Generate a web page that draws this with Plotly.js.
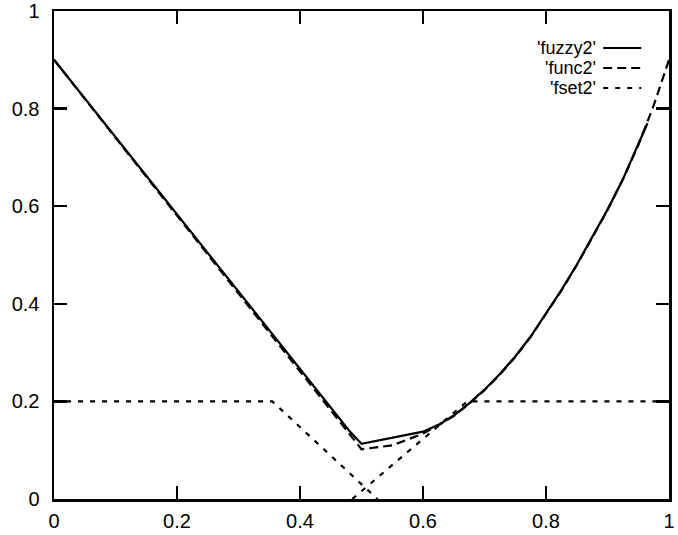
<!DOCTYPE html>
<html>
<head>
<meta charset="utf-8">
<script src="https://cdn.plot.ly/plotly-3.0.1.min.js"></script>
<style>html,body{margin:0;padding:0;background:#fff;}#chart{width:678px;height:535px;}</style>
</head>
<body>
<div id="chart"></div>
<script>
// fuzzy2 (solid)
var fuzzyX = [0, 0.48, 0.5, 0.55, 0.6, 0.625, 0.65, 0.675, 0.7, 0.725, 0.75, 0.775, 0.8, 0.825, 0.85, 0.875, 0.9, 0.925, 0.95, 0.965];
var fuzzyY = [0.9, 0.14, 0.113, 0.125, 0.138, 0.152, 0.171, 0.196, 0.224, 0.256, 0.292, 0.333, 0.38, 0.428, 0.48, 0.535, 0.593, 0.655, 0.725, 0.77];
// func2 (long dashes)
var funcX = [0, 0.5, 0.55, 0.6, 0.625, 0.65, 0.675, 0.7, 0.725, 0.75, 0.775, 0.8, 0.825, 0.85, 0.875, 0.9, 0.925, 0.95, 0.975, 1];
var funcY = [0.9, 0.102, 0.11, 0.134, 0.151, 0.17, 0.195, 0.223, 0.255, 0.291, 0.332, 0.379, 0.427, 0.479, 0.534, 0.592, 0.655, 0.725, 0.806, 0.9];
// fset2 (short dashes), two pieces separated by a gap
var fsetX = [0, 0.355, 0.526, null, 0.485, 0.672, 1];
var fsetY = [0.2, 0.2, 0, null, 0, 0.2, 0.2];
var legendNames = ["'fuzzy2'", "'func2'", "'fset2'"];
var xTicks = [0, 0.2, 0.4, 0.6, 0.8, 1];
var xTickText = ["0", "0.2", "0.4", "0.6", "0.8", "1"];
var yTicks = [0, 0.2, 0.4, 0.6, 0.8, 1];
var yTickText = ["0", "0.2", "0.4", "0.6", "0.8", "1"];

var styles = [
  {width: 2.2, dash: "solid"},
  {width: 2.2, dash: "9px,5px"},
  {width: 2.2, dash: "5px,7px"}
];

var traces = [
  {x: fuzzyX, y: fuzzyY, name: legendNames[0], mode: "lines", line: Object.assign({color: "#000"}, styles[0])},
  {x: funcX, y: funcY, name: legendNames[1], mode: "lines", line: Object.assign({color: "#000"}, styles[1])},
  {x: fsetX, y: fsetY, name: legendNames[2], mode: "lines", connectgaps: false, line: Object.assign({color: "#000"}, styles[2])}
];

var fontFam = "Liberation Sans, Arial, sans-serif";
var annotations = [];
var shapes = [];
var rowY = [48, 68, 88]; // pixel rows from top
var plotTop = 11, plotH = 488;
for (var i = 0; i < legendNames.length; i++) {
  var py = 1 - (rowY[i] - plotTop) / plotH;
  annotations.push({
    xref: "paper", yref: "paper", x: 0.883, y: py, xanchor: "right", yanchor: "middle",
    text: legendNames[i], showarrow: false, font: {family: fontFam, size: 18, color: "#000"},
    borderpad: 0
  });
  shapes.push({
    type: "line", xref: "paper", yref: "paper", x0: 0.893, x1: 0.955, y0: py, y1: py,
    line: {color: "#000", width: styles[i].width, dash: styles[i].dash}
  });
}

var axisCommon = {
  showgrid: false, zeroline: false, showline: true, mirror: "ticks",
  linecolor: "#000", linewidth: 2.5, ticks: "inside", ticklen: 13, tickwidth: 2.5, tickcolor: "#000",
  tickfont: {family: fontFam, size: 20, color: "#000"}
};

var layout = {
  width: 678, height: 535,
  margin: {l: 54, r: 9, t: 11, b: 36},
  paper_bgcolor: "#fff", plot_bgcolor: "#fff",
  showlegend: false,
  xaxis: Object.assign({}, axisCommon, {range: [0, 1], tickvals: xTicks, ticktext: xTickText, ticklabelstandoff: 2}),
  yaxis: Object.assign({}, axisCommon, {range: [0, 1], tickvals: yTicks, ticktext: yTickText, ticklabelstandoff: 8}),
  annotations: annotations,
  shapes: shapes
};

Plotly.newPlot("chart", traces, layout, {staticPlot: true, displayModeBar: false});
</script>
</body>
</html>
